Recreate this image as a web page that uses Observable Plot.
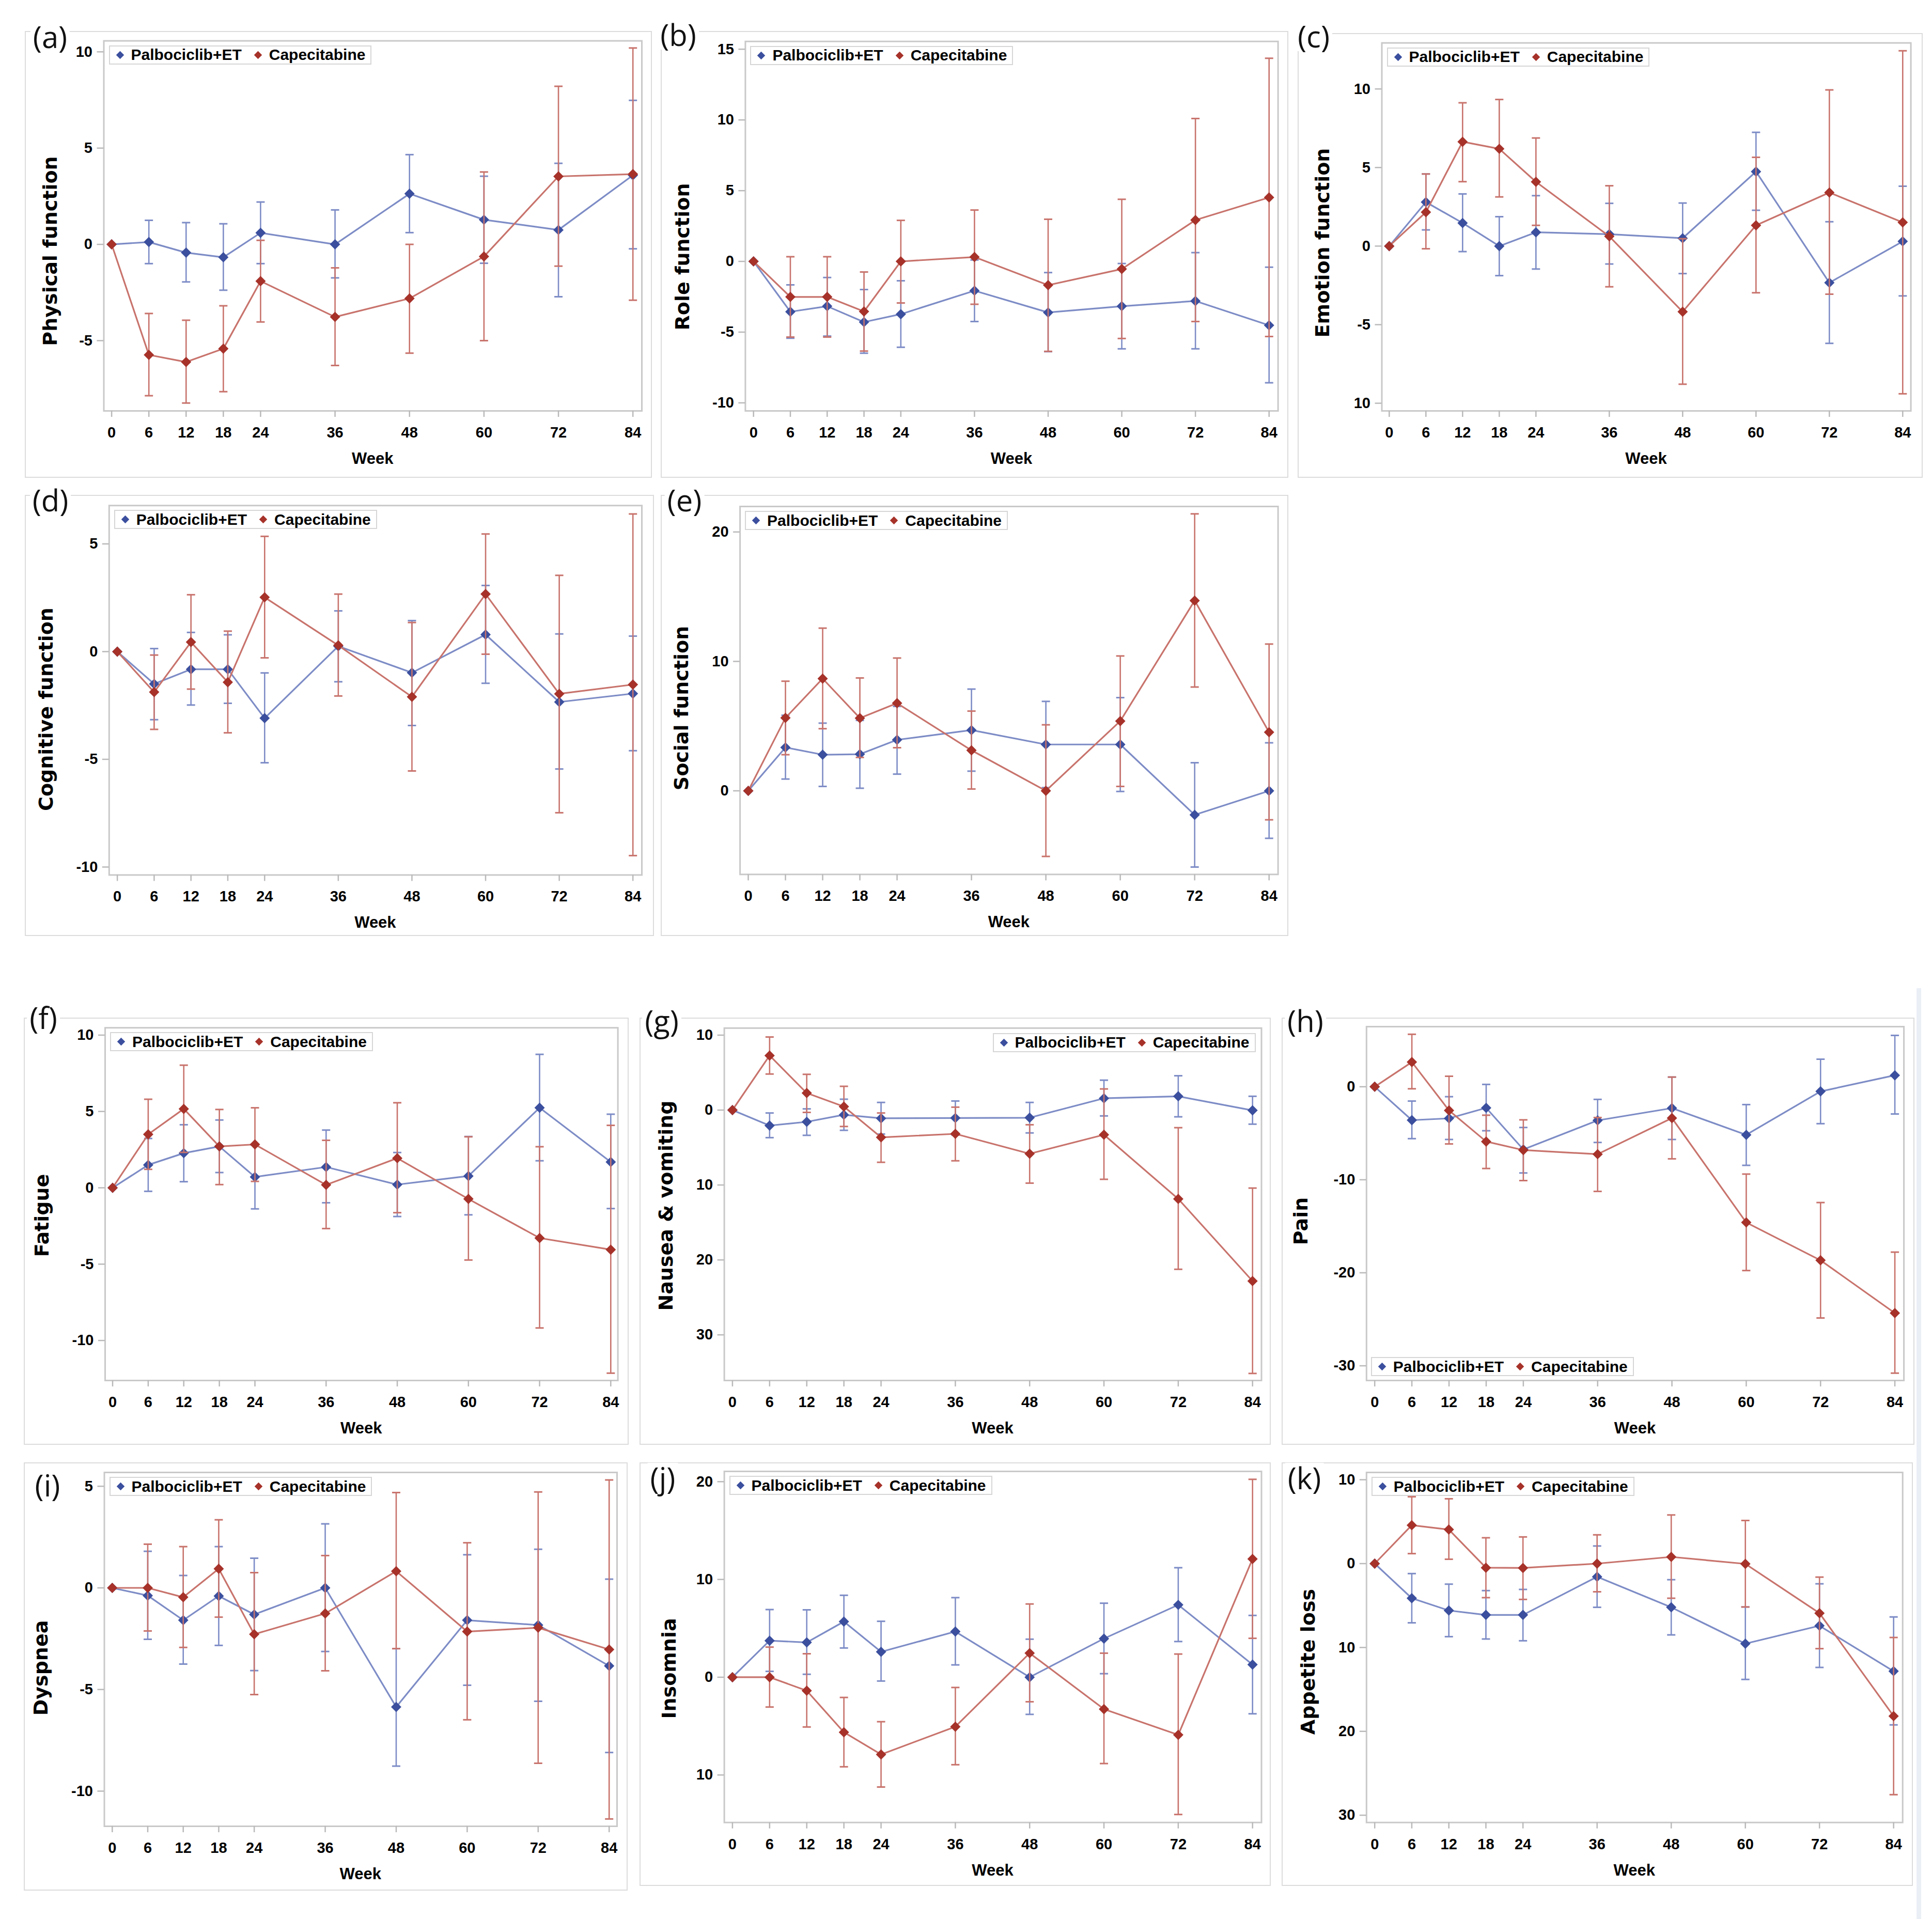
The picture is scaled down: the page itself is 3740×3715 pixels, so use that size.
<!DOCTYPE html>
<html>
<head>
<meta charset="utf-8">
<script src="https://cdn.jsdelivr.net/npm/d3@7"></script>
<script src="https://cdn.jsdelivr.net/npm/@observablehq/plot@0.6"></script>
<style>
  body { margin: 0; background: #fff; }
  #fig { position: relative; width: 3740px; height: 3715px; background: #fff; overflow: hidden; }
  .box { position: absolute; border: 2.5px solid #dcdcdc; box-sizing: border-box; }
  .plot { position: absolute; }
  .plot svg { overflow: visible; }
  .tag { position: absolute; font-family: "Open Sans", "Liberation Sans", sans-serif; font-size: 58px; line-height: 1;
         background: #fff; transform: translate(-50%, -50%); padding: 0 5px; color: #111; white-space: nowrap; }
  .ylab { position: absolute; font-family: "DejaVu Sans", sans-serif; font-weight: bold; font-size: 38px; white-space: nowrap;
          transform: translate(-50%, -50%) rotate(-90deg); line-height: 1; color: #000; }
  .xlab { position: absolute; font-family: "Liberation Sans", Arial, sans-serif; font-weight: bold; font-size: 31px;
          transform: translate(-50%, -50%); line-height: 1; color: #000; }
  .legend { position: absolute; display: flex; align-items: center; height: 37px; box-sizing: border-box;
            border: 2px solid #d6d6d6; background: #fff; padding: 0 10px 0 12px;
            font-family: "Liberation Sans", Arial, sans-serif; font-weight: bold; font-size: 30px; white-space: nowrap; color: #000; }
  .dia { display: inline-block; width: 11px; height: 11px; transform: rotate(45deg); }
  .strip { position: absolute; left: 3710px; top: 1913px; width: 9px; height: 1802px; background: #eaeff6; }
</style>
</head>
<body>
<div id="fig"><div class="strip"></div></div>
<script>
// ---------- data ----------
const weeks = [0, 6, 12, 18, 24, 36, 48, 60, 72, 84];
const seriesNames = ["Palbociclib+ET", "Capecitabine"];

// (a) Physical function
const physPalb   = [0, 0.12, -0.43, -0.67, 0.6, 0, 2.63, 1.28, 0.75, 3.59];
const physPalbLo = [null, -1.0, -1.95, -2.38, -1.0, -1.74, 0.61, -0.98, -2.72, -0.23];
const physPalbHi = [null, 1.25, 1.13, 1.07, 2.2, 1.79, 4.66, 3.54, 4.21, 7.48];
const physCape   = [0, -5.74, -6.11, -5.42, -1.91, -3.77, -2.81, -0.63, 3.53, 3.65];
const physCapeLo = [null, -7.86, -8.24, -7.65, -4.03, -6.29, -5.65, -5.0, -1.13, -2.9];
const physCapeHi = [null, -3.59, -3.94, -3.19, 0.21, -1.22, 0, 3.76, 8.21, 10.2];

// (b) Role function
const rolePalb   = [0, -3.56, -3.17, -4.29, -3.73, -2.07, -3.61, -3.17, -2.8, -4.52];
const rolePalbLo = [null, -5.43, -5.28, -6.49, -6.07, -4.25, -6.38, -6.18, -6.18, -8.58];
const rolePalbHi = [null, -1.66, -1.14, -1.99, -1.37, 0.1, -0.79, -0.15, 0.62, -0.41];
const roleCape   = [0, -2.51, -2.51, -3.54, 0, 0.31, -1.68, -0.54, 2.92, 4.52];
const roleCapeLo = [null, -5.35, -5.35, -6.34, -2.94, -3.03, -6.36, -5.45, -4.25, -5.31];
const roleCapeHi = [null, 0.33, 0.33, -0.75, 2.9, 3.63, 2.98, 4.39, 10.1, 14.36];

// (c) Emotion function
const emoPalb   = [0, 2.8, 1.47, 0, 0.88, 0.76, 0.5, 4.74, -2.33, 0.3];
const emoPalbLo = [null, 1.03, -0.35, -1.88, -1.46, -1.14, -1.75, 2.28, -6.19, -3.17];
const emoPalbHi = [null, 4.59, 3.32, 1.87, 3.21, 2.72, 2.74, 7.24, 1.55, 3.81];
const emoCape   = [0, 2.16, 6.64, 6.19, 4.09, 0.62, -4.18, 1.32, 3.41, 1.51];
const emoCapeLo = [null, -0.17, 4.1, 3.13, 1.32, -2.59, -8.79, -2.97, -3.06, -9.4];
const emoCapeHi = [null, 4.59, 9.12, 9.33, 6.88, 3.84, 0.47, 5.65, 9.94, 12.43];

// (d) Cognitive function
const cogPalb   = [0, -1.5, -0.82, -0.82, -3.09, 0.25, -0.98, 0.79, -2.34, -1.95];
const cogPalbLo = [null, -3.16, -2.48, -2.4, -5.16, -1.4, -3.43, -1.47, -5.45, -4.6];
const cogPalbHi = [null, 0.14, 0.89, 0.78, -0.99, 1.89, 1.44, 3.07, 0.82, 0.72];
const cogCape   = [0, -1.88, 0.44, -1.42, 2.52, 0.29, -2.1, 2.67, -1.96, -1.53];
const cogCapeLo = [null, -3.61, -1.74, -3.77, -0.29, -2.06, -5.54, -0.12, -7.48, -9.47];
const cogCapeHi = [null, -0.16, 2.64, 0.95, 5.35, 2.67, 1.35, 5.46, 3.54, 6.39];

// (e) Social function
const socPalb   = [0, 3.35, 2.79, 2.83, 3.94, 4.69, 3.58, 3.58, -1.86, 0];
const socPalbLo = [null, 0.91, 0.34, 0.2, 1.29, 1.52, 0.25, -0.05, -5.89, -3.67];
const socPalbHi = [null, 5.84, 5.23, 5.44, 6.52, 7.86, 6.91, 7.2, 2.17, 3.71];
const socCape   = [0, 5.64, 8.67, 5.62, 6.77, 3.13, 0, 5.39, 14.7, 4.53];
const socCapeLo = [null, 2.79, 4.8, 2.58, 3.33, 0.14, -5.07, 0.34, 8.02, -2.24];
const socCapeHi = [null, 8.47, 12.57, 8.72, 10.26, 6.16, 5.1, 10.42, 21.4, 11.34];

// (f) Fatigue
const fatPalb   = [0, 1.5, 2.27, 2.71, 0.71, 1.36, 0.21, 0.77, 5.24, 1.69];
const fatPalbLo = [null, -0.23, 0.4, 1.0, -1.38, -0.98, -1.88, -1.77, 1.77, -1.36];
const fatPalbHi = [null, 3.23, 4.13, 4.44, 2.8, 3.78, 2.31, 3.36, 8.74, 4.82];
const fatCape   = [0, 3.5, 5.17, 2.71, 2.84, 0.19, 1.94, -0.73, -3.29, -4.05];
const fatCapeLo = [null, 1.21, 2.32, 0.21, 0.42, -2.67, -1.63, -4.73, -9.18, -12.14];
const fatCapeHi = [null, 5.8, 8.03, 5.13, 5.24, 3.11, 5.57, 3.34, 2.69, 4.09];

// (g) Nausea & vomiting
const nauPalb   = [0, -2.07, -1.57, -0.63, -1.1, -1.06, -1.02, 1.57, 1.84, -0.04];
const nauPalbLo = [null, -3.68, -3.37, -2.7, -3.2, -3.33, -3.05, -0.78, -0.9, -1.88];
const nauPalbHi = [null, -0.39, 0.16, 1.45, 1.02, 1.21, 1.02, 3.99, 4.58, 1.84];
const nauCape   = [0, 7.28, 2.27, 0.47, -3.64, -3.17, -5.83, -3.29, -11.86, -22.82];
const nauCapeLo = [null, 4.81, -0.31, -2.19, -6.97, -6.77, -9.75, -9.24, -21.25, -35.15];
const nauCapeHi = [null, 9.75, 4.77, 3.17, -0.39, 0.39, -1.96, 2.82, -2.35, -10.41];

// (h) Pain
const painPalb   = [0, -3.59, -3.4, -2.27, -6.74, -3.62, -2.3, -5.17, -0.5, 1.23];
const painPalbLo = [null, -5.58, -5.67, -4.73, -9.27, -5.99, -5.67, -8.45, -3.97, -2.93];
const painPalbHi = [null, -1.54, -1.07, 0.25, -4.38, -1.36, 1.04, -1.92, 2.96, 5.52];
const painCape   = [0, 2.65, -2.55, -5.89, -6.81, -7.25, -3.37, -14.59, -18.66, -24.33];
const painCapeLo = [null, -0.22, -6.15, -8.79, -10.09, -11.25, -7.75, -19.76, -24.86, -30.79];
const painCapeHi = [null, 5.64, 1.13, -3.06, -3.56, -3.31, 1.04, -9.39, -12.45, -17.78];

// (i) Dyspnea
const dysPalb   = [0, -0.38, -1.59, -0.4, -1.31, 0, -5.86, -1.59, -1.83, -3.84];
const dysPalbLo = [null, -2.53, -3.75, -2.83, -4.07, -3.13, -8.77, -4.79, -5.58, -8.1];
const dysPalbHi = [null, 1.8, 0.61, 2.03, 1.46, 3.15, -2.99, 1.63, 1.9, 0.43];
const dysCape   = [0, 0, -0.46, 0.94, -2.28, -1.26, 0.82, -2.15, -1.96, -3.03];
const dysCapeLo = [null, -2.12, -2.93, -1.44, -5.25, -4.08, -2.99, -6.49, -8.63, -11.37];
const dysCapeHi = [null, 2.15, 2.03, 3.35, 0.75, 1.59, 4.69, 2.22, 4.72, 5.31];

// (j) Insomnia
const insPalb   = [0, 3.74, 3.56, 5.69, 2.6, 4.67, 0, 3.95, 7.4, 1.29];
const insPalbLo = [null, 0.6, 0.3, 2.99, -0.39, 1.26, -3.8, 0.36, 3.65, -3.74];
const insPalbHi = [null, 6.92, 6.89, 8.38, 5.72, 8.14, 3.89, 7.57, 11.2, 6.32];
const insCape   = [0, 0, -1.38, -5.63, -7.9, -5.06, 2.46, -3.26, -5.9, 12.1];
const insCapeLo = [null, -3.05, -5.09, -9.16, -11.23, -8.95, -2.51, -8.83, -14.04, 3.98];
const insCapeHi = [null, 3.08, 2.4, -2.07, -4.55, -1.05, 7.49, 2.46, 2.37, 20.24];

// (k) Appetite loss
const appPalb   = [0, -4.13, -5.59, -6.12, -6.12, -1.57, -5.21, -9.55, -7.41, -12.83];
const appPalbLo = [null, -7.06, -8.71, -8.99, -9.2, -5.21, -8.5, -13.81, -12.38, -19.23];
const appPalbHi = [null, -1.19, -2.45, -3.22, -3.08, 2.1, -1.92, -5.17, -2.41, -6.36];
const appCape   = [0, 4.58, 4.06, -0.49, -0.52, 0, 0.8, -0.03, -5.91, -18.18];
const appCapeLo = [null, 1.19, 0.52, -4.06, -4.27, -3.36, -4.13, -5.17, -10.14, -27.55];
const appCapeHi = [null, 7.97, 7.73, 3.08, 3.18, 3.43, 5.8, 5.14, -1.61, -8.81];

// y tick values and their printed labels
const ticksA = [-5, 0, 5, 10],            labelsA = ["-5", "0", "5", "10"];
const ticksB = [-10, -5, 0, 5, 10, 15],   labelsB = ["-10", "-5", "0", "5", "10", "15"];
const ticksC = [-10, -5, 0, 5, 10],       labelsC = ["10", "-5", "0", "5", "10"];
const ticksD = [-10, -5, 0, 5],           labelsD = ["-10", "-5", "0", "5"];
const ticksE = [0, 10, 20],               labelsE = ["0", "10", "20"];
const ticksF = [-10, -5, 0, 5, 10],       labelsF = ["-10", "-5", "0", "5", "10"];
const ticksG = [-30, -20, -10, 0, 10],    labelsG = ["30", "20", "10", "0", "10"];
const ticksH = [-30, -20, -10, 0],        labelsH = ["-30", "-20", "-10", "0"];
const ticksI = [-10, -5, 0, 5],           labelsI = ["-10", "-5", "0", "5"];
const ticksJ = [-10, 0, 10, 20],          labelsJ = ["10", "0", "10", "20"];
const ticksK = [-30, -20, -10, 0, 10],    labelsK = ["30", "20", "10", "0", "10"];

// ---------- layout (pixels) ----------
const panels = [
  {tag:"(a)", ylabel:"Physical function", s:[physPalb,physPalbLo,physPalbHi,physCape,physCapeLo,physCapeHi], ticks:ticksA, labels:labelsA,
   dom:[-8.65,10.57], box:[48,60,1262,925], frame:[200.5,78.6,1242,795], inset:[15.1,17.3], tagAt:[97,71], ylabAt:[96.5,485.6], legend:"tl"},
  {tag:"(b)", ylabel:"Role function", s:[rolePalb,rolePalbLo,rolePalbHi,roleCape,roleCapeLo,roleCapeHi], ticks:ticksB, labels:labelsB,
   dom:[-10.57,15.55], box:[1279,60,2494,925], frame:[1442.4,79.7,2473.6,795], inset:[15.8,17.4], tagAt:[1313,67], ylabAt:[1320.6,497], legend:"tl"},
  {tag:"(c)", ylabel:"Emotion function", s:[emoPalb,emoPalbLo,emoPalbHi,emoCape,emoCapeLo,emoCapeHi], ticks:ticksC, labels:labelsC,
   dom:[-10.49,12.93], box:[2512,64,3722,925], frame:[2674.5,82.6,3698.6,795], inset:[14.3,15.8], tagAt:[2543,70], ylabAt:[2560,470], legend:"tl"},
  {tag:"(d)", ylabel:"Cognitive function", s:[cogPalb,cogPalbLo,cogPalbHi,cogCape,cogCapeLo,cogCapeHi], ticks:ticksD, labels:labelsD,
   dom:[-10.37,6.78], box:[48,958,1266,1812], frame:[210.8,978.2,1242,1693.4], inset:[15.8,17.3], tagAt:[97.5,968], ylabAt:[89.4,1372.7], legend:"tl"},
  {tag:"(e)", ylabel:"Social function", s:[socPalb,socPalbLo,socPalbHi,socCape,socCapeLo,socCapeHi], ticks:ticksE, labels:labelsE,
   dom:[-6.46,21.97], box:[1279,958,2494,1812], frame:[1432.1,980,2473.6,1692.3], inset:[15.9,17.4], tagAt:[1325,968], ylabAt:[1319.4,1371], legend:"tl"},
  {tag:"(f)", ylabel:"Fatigue", s:[fatPalb,fatPalbLo,fatPalbHi,fatCape,fatCapeLo,fatCapeHi], ticks:ticksF, labels:labelsF,
   dom:[-12.62,10.48], box:[46,1970,1217,2797], frame:[203,1989.2,1195.6,2672], inset:[14.5,13.8], tagAt:[84,1970], ylabAt:[81.3,2352.8], legend:"tl"},
  {tag:"(g)", ylabel:"Nausea & vomiting", s:[nauPalb,nauPalbLo,nauPalbHi,nauCape,nauCapeLo,nauCapeHi], ticks:ticksG, labels:labelsG,
   dom:[-36.09,10.94], box:[1238,1970,2460,2797], frame:[1401.6,1989.8,2441.5,2672], inset:[15.8,17.3], tagAt:[1281,1976], ylabAt:[1288.5,2334], legend:"tr"},
  {tag:"(h)", ylabel:"Pain", s:[painPalb,painPalbLo,painPalbHi,painCape,painCapeLo,painCapeHi], ticks:ticksH, labels:labelsH,
   dom:[-31.58,6.46], box:[2481,1970,3706,2797], frame:[2644.8,1987,3685.1,2672], inset:[15.9,17.5], tagAt:[2527,1976], ylabAt:[2518,2364], legend:"bl"},
  {tag:"(i)", ylabel:"Dyspnea", s:[dysPalb,dysPalbLo,dysPalbHi,dysCape,dysCapeLo,dysCapeHi], ticks:ticksI, labels:labelsI,
   dom:[-11.73,5.68], box:[46,2831,1215,3660], frame:[201.5,2850,1194,3535], inset:[15.3,15.3], tagAt:[92,2875], ylabAt:[79.4,3228.5], legend:"tl"},
  {tag:"(j)", ylabel:"Insomnia", s:[insPalb,insPalbLo,insPalbHi,insCape,insCapeLo,insCapeHi], ticks:ticksJ, labels:labelsJ,
   dom:[-14.86,21.05], box:[1238,2831,2460,3651], frame:[1401.6,2848,2441.5,3527.7], inset:[15.8,17.3], tagAt:[1283,2861], ylabAt:[1295.2,3230], legend:"tl"},
  {tag:"(k)", ylabel:"Appetite loss", s:[appPalb,appPalbLo,appPalbHi,appCape,appCapeLo,appCapeHi], ticks:ticksK, labels:labelsK,
   dom:[-30.87,10.87], box:[2481,2831,3703,3651], frame:[2644.8,2850,3682.7,3527.7], inset:[15.9,17.5], tagAt:[2525,2861], ylabAt:[2532,3217], legend:"tl"}
];

const markColors = ["#3b4f9e", "#a6322a"];
const lineColors = ["#7d8cc6", "#c8736c"];

const capSymbol = {
  draw(context, size) {
    const w = Math.sqrt(size / Math.PI);
    context.moveTo(-w, 0);
    context.lineTo(w, 0);
  }
};

const fig = document.getElementById("fig");

function el(cls, css, html) {
  const d = document.createElement("div");
  d.className = cls;
  Object.assign(d.style, css);
  if (html != null) d.innerHTML = html;
  fig.appendChild(d);
  return d;
}

for (const p of panels) {
  const [oL, oT, oR, oB] = p.box;
  const [fL, fT, fR, fB] = p.frame;

  el("box", {left: oL + "px", top: oT + "px", width: (oR - oL) + "px", height: (oB - oT) + "px"});

  const marks = [Plot.frame({stroke: "#c9c9c9", strokeWidth: 3})];
  for (let k = 0; k < 2; k++) {
    const mean = p.s[k * 3], lo = p.s[k * 3 + 1], hi = p.s[k * 3 + 2];
    const data = weeks.map((w, i) => ({week: w, series: seriesNames[k], mean: mean[i], lo: lo[i], hi: hi[i]}));
    const bars = data.filter(d => d.lo != null && d.hi != null);
    marks.push(
      Plot.ruleX(bars, {x: "week", y1: "lo", y2: "hi", stroke: lineColors[k], strokeWidth: 2.6}),
      Plot.dot(bars, {x: "week", y: "lo", symbol: capSymbol, r: 8, fill: "none", stroke: lineColors[k], strokeWidth: 3}),
      Plot.dot(bars, {x: "week", y: "hi", symbol: capSymbol, r: 8, fill: "none", stroke: lineColors[k], strokeWidth: 3}),
      Plot.line(data, {x: "week", y: "mean", stroke: lineColors[k], strokeWidth: 3.2}),
      Plot.dot(data, {x: "week", y: "mean", symbol: "diamond2", r: 9, fill: markColors[k]})
    );
  }
  marks.push(
    Plot.axisX({ticks: weeks, tickFormat: d => String(d), tickSize: 12, tickPadding: 19,
                stroke: "#b9b9b9", strokeWidth: 2.5, fill: "#000", fontSize: 29, fontWeight: "bold", label: null}),
    Plot.axisY({ticks: p.ticks, tickFormat: d => p.labels[p.ticks.indexOf(d)], tickSize: 13, tickPadding: 9,
                stroke: "#b9b9b9", strokeWidth: 2.5, fill: "#000", fontSize: 29, fontWeight: "bold", label: null})
  );

  const chart = Plot.plot({
    width: oR - oL,
    height: oB - oT,
    marginLeft: fL - oL,
    marginTop: fT - oT,
    marginRight: oR - fR,
    marginBottom: oB - fB,
    x: {domain: [0, 84], insetLeft: p.inset[0], insetRight: p.inset[1]},
    y: {domain: p.dom},
    style: {fontFamily: '"Liberation Sans", Arial, sans-serif', fontSize: "29px", fontWeight: "bold", background: "transparent", overflow: "visible"},
    marks
  });
  const holder = el("plot", {left: oL + "px", top: oT + "px"});
  holder.appendChild(chart);

  // axis titles
  el("ylab", {left: p.ylabAt[0] + "px", top: p.ylabAt[1] + "px"}, p.ylabel.replace("&", "&amp;"));
  el("xlab", {left: ((fL + fR) / 2) + "px", top: (fB + 92) + "px"}, "Week");

  // legend
  const lg = document.createElement("div");
  lg.className = "legend";
  seriesNames.forEach((name, k) => {
    const dia = document.createElement("span");
    dia.className = "dia";
    dia.style.background = markColors[k];
    dia.style.margin = "0 16px 0 2px";
    const t = document.createElement("span");
    t.textContent = name;
    if (k === 0) t.style.marginRight = "24px";
    lg.appendChild(dia);
    lg.appendChild(t);
  });
  if (p.legend === "tl") {
    lg.style.left = (fL + 10) + "px";
    lg.style.top = (fT + 9) + "px";
  } else if (p.legend === "tr") {
    lg.style.right = (3740 - (fR - 11)) + "px";
    lg.style.top = (fT + 10) + "px";
  } else {
    lg.style.left = (fL + 9) + "px";
    lg.style.top = (fB - 45) + "px";
  }
  fig.appendChild(lg);

  // panel tag
  el("tag", {left: p.tagAt[0] + "px", top: p.tagAt[1] + "px"}, p.tag);
}
</script>
</body>
</html>
